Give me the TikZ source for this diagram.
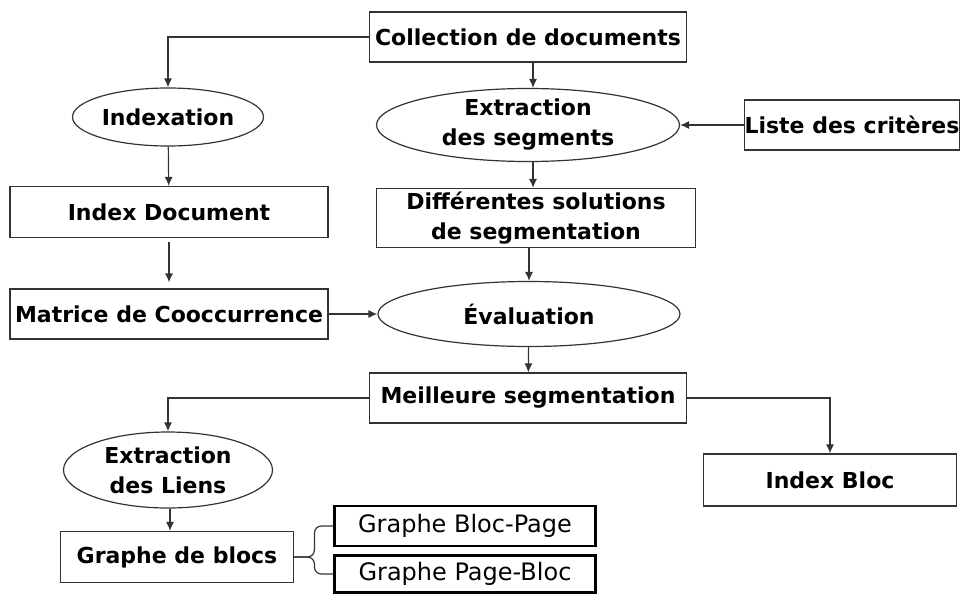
\documentclass[tikz,border=0pt]{standalone}
\usepackage{fontspec}
\setmainfont{DejaVu Sans}
\usetikzlibrary{shapes.geometric,arrows.meta}
\begin{document}
\begin{tikzpicture}[x=1pt, y=-1pt,
    boite/.style={draw=black!80, line width=1.2pt, inner sep=0pt, align=center, font=\fontsize{22}{30}\selectfont\bfseries},
    ovale/.style={draw=black!80, line width=1.2pt, shape=ellipse, inner sep=0pt, align=center, font=\fontsize{22}{30}\selectfont\bfseries},
    graphe/.style={draw=black, line width=2.2pt, inner sep=0pt, font=\fontsize{24}{28}\selectfont},
    fleche/.style={draw=black!80, line width=1.2pt, -{Latex[length=9pt,width=8pt]}}]
    \useasboundingbox (0,0) rectangle (960,594);

    \node[boite, minimum width=317pt, minimum height=50pt] (CD) at (528,37) {Collection de documents};
    \node[ovale, minimum width=191pt, minimum height=58pt] (IX) at (168,117) {Indexation};
    \node[ovale, minimum width=303pt, minimum height=73pt] (ES) at (528,125) {Extraction\\des segments};
    \node[boite, minimum width=212pt, minimum height=50pt] (LC) at (852,125) {Liste des critères};

    \node[boite, minimum width=318pt, minimum height=51pt] (ID) at (169,212) {Index Document};
    \node[boite, minimum width=319pt, minimum height=59pt] (DS) at (536,218) {Différentes solutions\\de segmentation};
    \node[boite, minimum width=318pt, minimum height=50pt] (MC) at (169,314) {Matrice de Cooccurrence};
    \node[ovale, minimum width=302pt, minimum height=65pt] (EV) at (529,314) {Évaluation};

    \node[boite, minimum width=317pt, minimum height=50pt] (MS) at (528,398) {Meilleure segmentation};
    \node[ovale, minimum width=209pt, minimum height=76pt] (EL) at (168,470) {Extraction\\des Liens};
    \node[boite, minimum width=253pt, minimum height=52pt] (IB) at (830,480) {Index Bloc};
    \node[boite, minimum width=233pt, minimum height=51pt] (GB) at (177,557) {Graphe de blocs};
    \node[graphe, minimum width=261pt, minimum height=40pt] (BP) at (465,526) {Graphe Bloc-Page};
    \node[graphe, minimum width=261pt, minimum height=37pt] (PB) at (465,574) {Graphe Page-Bloc};

    \draw[fleche] (CD.west) -| (IX.north);
    \draw[fleche] ([xshift=5]CD.south) -- ([xshift=5]ES.north);
    \draw[fleche] (LC) -- (ES);
    \draw[fleche] (IX) -- (ID);
    \draw[fleche] ([xshift=5]ES.south) -- ([xshift=5]ES.south |- DS.north);
    \draw[fleche, shorten <=4pt, shorten >=6pt] (ID) -- (MC);
    \draw[fleche] (DS.south -| EV.north) -- (EV.north);
    \draw[fleche] (MC) -- (EV);
    \draw[fleche] (EV) -- (MS);
    \draw[fleche] (MS.west) -| (EL.north);
    \draw[fleche] (MS.east) -| (IB.north);
    \draw[fleche] (EL.south -| 170,0) -- (GB.north -| 170,0);

    \draw[draw=black!80, line width=1.2pt, rounded corners=7pt] (BP.west) -- ++(-19,0) |- (GB.east);
    \draw[draw=black!80, line width=1.2pt, rounded corners=7pt] (PB.west) -- ++(-19,0) |- (GB.east);
\end{tikzpicture}
\end{document}
